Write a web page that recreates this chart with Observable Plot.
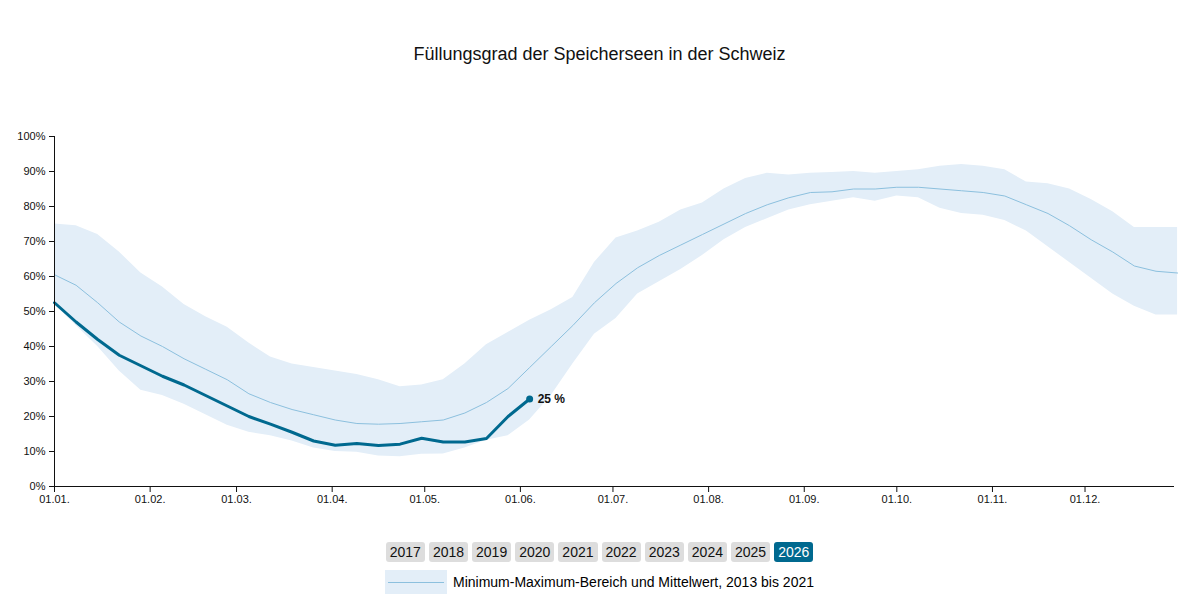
<!DOCTYPE html>
<html><head><meta charset="utf-8">
<script src="https://cdn.jsdelivr.net/npm/d3@7"></script>
<script src="https://cdn.jsdelivr.net/npm/@observablehq/plot@0.6"></script>
<style>
body{margin:0;font-family:"Liberation Sans",Arial,sans-serif;background:#fff;width:1199px}
#title{height:110px;text-align:center;font-size:18px;line-height:108px;color:#111}
#years{text-align:center;margin-top:32px;font-size:14px}
#years span{display:inline-block;background:#ddd;color:#111;padding:2px 4px;margin:0 2px;border-radius:3px}
#years span.on{background:#00698f;color:#fff}
#legend{text-align:center;margin-top:8px;font-size:14px;display:flex;justify-content:center;align-items:center;gap:6px}
#legend .sw{width:62px;height:24px;background:#e3eef8;position:relative;display:inline-block}
#legend .sw:after{content:"";position:absolute;left:3px;right:3px;top:12px;border-top:1px solid #8cc0de}
</style></head><body>
<div id="title">Füllungsgrad der Speicherseen in der Schweiz</div>
<div id="chart"></div>
<div id="years"></div>
<div id="legend"><span class="sw"></span><span>Minimum-Maximum-Bereich und Mittelwert, 2013 bis 2021</span></div>
<script>
const years=["2017","2018","2019","2020","2021","2022","2023","2024","2025","2026"];
const meanVals=[60.5,57.5,52.5,47,43,40,36.5,33.5,30.5,26.5,24,22,20.5,19,18,17.8,18,18.5,19,21,24,28,34,40,46,52.5,58,62.5,66,69,72,75,78,80.5,82.5,84,84.2,85,85,85.5,85.5,85,84.5,84,83,80.5,78,74.5,70.5,67,63,61.5,61];
const maxVals=[75,74.5,72,67,61,57,52,48.5,45.5,41,37,35,34,33,32,30.5,28.5,29,30.5,35,40.5,44,47.5,50.5,54,64,71,73,75.5,79,81,85,88,89.5,89,89.5,89.7,90,89.5,90,90.5,91.5,92,91.5,90.5,87,86.5,85,82,78.5,74,74,74];
const minVals=[52,46,40,33,27.5,26,23.5,20.5,17.5,15.5,14.5,13,11,10,9.8,8.7,8.5,9.2,9.3,11,13.2,14.5,19,26,35,43.5,48,55,58.5,62,66,70.5,74,76.5,79,80.5,81.5,82.5,81.5,83,82.5,79.5,78,77.5,76,73,68.5,64,59.5,55,51.5,49,49];
const cur=[52.5,47,42,37.5,34.5,31.5,29,26,23,20,17.8,15.5,13,11.8,12.3,11.7,12.1,13.8,12.7,12.7,13.7,20,25];
const day=i=>new Date(2026,0,1+7*i);
const band=meanVals.map((m,i)=>({d:day(i),m,lo:minVals[i],hi:maxVals[i]}));
const now=cur.map((v,i)=>({d:day(i),v}));
const last=now[now.length-1];
const fmt=d3.utcFormat("%d.%m.");
const p=Plot.plot({
  width:1199,height:400,marginTop:26,marginBottom:24,marginLeft:54,marginRight:25,
  style:{fontFamily:"Liberation Sans,Arial,sans-serif",fontSize:"11px",color:"#111"},
  x:{type:"time",domain:[new Date(2026,0,1),new Date(2026,11,30)],ticks:d3.timeMonth.range(new Date(2026,0,1),new Date(2026,11,2)),tickFormat:d3.timeFormat("%d.%m."),label:null},
  y:{domain:[0,100],ticks:d3.range(0,101,10),tickFormat:d=>d+"%",label:null},
  marks:[
    Plot.areaY(band,{x:"d",y1:"lo",y2:"hi",fill:"#e3eef8"}),
    Plot.lineY(band,{x:"d",y:"m",stroke:"#8cc0de",strokeWidth:1}),
    Plot.lineY(now,{x:"d",y:"v",stroke:"#00698f",strokeWidth:3}),
    Plot.dot([last],{x:"d",y:"v",r:3.5,fill:"#00698f"}),
    Plot.text([last],{x:"d",y:"v",text:d=>d.v+" %",dx:8,textAnchor:"start",fontWeight:"bold",fontSize:12}),
    Plot.axisY({ticks:d3.range(0,101,10),tickFormat:d=>d+"%",tickSize:5}),
    Plot.ruleY([0],{stroke:"#111"}),
    Plot.ruleX([new Date(2026,0,1)],{stroke:"#111"})
  ]
});
document.getElementById("chart").appendChild(p);
const y=document.getElementById("years");
years.forEach(t=>{const s=document.createElement("span");s.textContent=t;if(t==="2026")s.className="on";y.appendChild(s);});
</script></body></html>
